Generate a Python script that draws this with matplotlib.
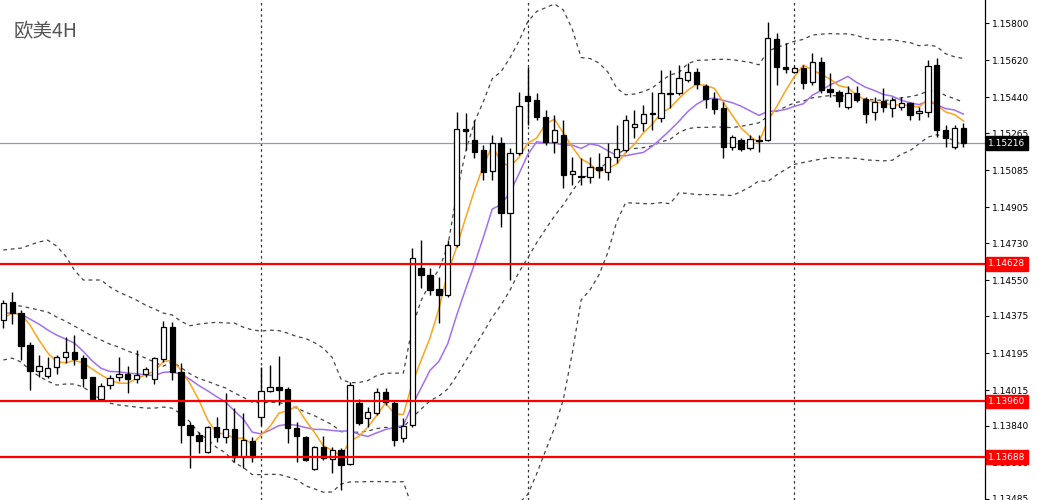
import numpy as np
import pandas as pd
import matplotlib
matplotlib.use('Agg')
import matplotlib.pyplot as plt
from matplotlib.transforms import blended_transform_factory

plt.rcParams['font.family'] = ['Noto Sans CJK SC', 'DejaVu Sans']

# 4H candles (open / high / low / close)
opens = [1.14355, 1.14443, 1.14389, 1.14234, 1.14107, 1.14083, 1.14127, 1.14175, 1.14200, 1.14170,
         1.14078, 1.13971, 1.14039, 1.14078, 1.14092, 1.14068, 1.14092, 1.14068, 1.14165, 1.14321,
         1.14102, 1.13844, 1.13796, 1.13713, 1.13835, 1.13786, 1.13825, 1.13689, 1.13767, 1.13883,
         1.14010, 1.14029, 1.14020, 1.13830, 1.13786, 1.13630, 1.13737, 1.13679, 1.13723, 1.13655,
         1.13951, 1.13878, 1.13903, 1.14005, 1.13951, 1.13781, 1.13844, 1.14608, 1.14574, 1.14506,
         1.14477, 1.14720, 1.15284, 1.15231, 1.15182, 1.15080, 1.15216, 1.14876, 1.15168, 1.15445,
         1.15425, 1.15343, 1.15221, 1.15255, 1.15065, 1.15056, 1.15051, 1.15100, 1.15075, 1.15148,
         1.15182, 1.15294, 1.15314, 1.15362, 1.15338, 1.15460, 1.15460, 1.15523, 1.15562, 1.15494,
         1.15430, 1.15387, 1.15197, 1.15231, 1.15192, 1.15226, 1.15231, 1.15722, 1.15586, 1.15562,
         1.15581, 1.15513, 1.15610, 1.15479, 1.15464, 1.15391, 1.15460, 1.15430, 1.15367, 1.15421,
         1.15387, 1.15391, 1.15411, 1.15362, 1.15367, 1.15596, 1.15280, 1.15197, 1.15289]
highs = [1.14452, 1.14491, 1.14404, 1.14248, 1.14185, 1.14175, 1.14185, 1.14272, 1.14282, 1.14185,
         1.14078, 1.14049, 1.14088, 1.14175, 1.14131, 1.14209, 1.14127, 1.14175, 1.14350, 1.14345,
         1.14146, 1.13859, 1.13810, 1.13840, 1.13883, 1.14000, 1.13927, 1.13903, 1.13786, 1.14127,
         1.14136, 1.14180, 1.14029, 1.13859, 1.13791, 1.13742, 1.13791, 1.13737, 1.13732, 1.14054,
         1.13971, 1.13932, 1.14024, 1.14024, 1.13966, 1.13878, 1.14705, 1.14744, 1.14608, 1.14564,
         1.14744, 1.15367, 1.15362, 1.15328, 1.15207, 1.15255, 1.15245, 1.15192, 1.15464, 1.15586,
         1.15460, 1.15377, 1.15353, 1.15328, 1.15148, 1.15143, 1.15148, 1.15168, 1.15216, 1.15304,
         1.15353, 1.15377, 1.15401, 1.15464, 1.15571, 1.15571, 1.15596, 1.15606, 1.15581, 1.15503,
         1.15464, 1.15416, 1.15255, 1.15241, 1.15255, 1.15255, 1.15805, 1.15751, 1.15703, 1.15591,
         1.15596, 1.15654, 1.15635, 1.15557, 1.15474, 1.15494, 1.15494, 1.15440, 1.15440, 1.15484,
         1.15440, 1.15440, 1.15416, 1.15391, 1.15620, 1.15630, 1.15304, 1.15304, 1.15314]
lows = [1.14316, 1.14336, 1.14161, 1.14015, 1.14078, 1.14073, 1.14092, 1.14146, 1.14136, 1.14029,
        1.13966, 1.13961, 1.14020, 1.14058, 1.14000, 1.14049, 1.14078, 1.14044, 1.14151, 1.14063,
        1.13757, 1.13635, 1.13708, 1.13708, 1.13762, 1.13757, 1.13664, 1.13635, 1.13664, 1.13844,
        1.14005, 1.13942, 1.13757, 1.13664, 1.13669, 1.13625, 1.13674, 1.13611, 1.13528, 1.13650,
        1.13844, 1.13835, 1.13893, 1.13942, 1.13742, 1.13762, 1.13835, 1.14511, 1.14477, 1.14341,
        1.14467, 1.14710, 1.15182, 1.15143, 1.15036, 1.15036, 1.14808, 1.14550, 1.15158, 1.15304,
        1.15328, 1.15207, 1.15168, 1.14997, 1.15012, 1.15012, 1.15022, 1.15046, 1.15036, 1.15119,
        1.15173, 1.15241, 1.15275, 1.15280, 1.15318, 1.15387, 1.15450, 1.15513, 1.15479, 1.15387,
        1.15357, 1.15143, 1.15182, 1.15177, 1.15182, 1.15173, 1.15226, 1.15498, 1.15557, 1.15557,
        1.15479, 1.15498, 1.15460, 1.15440, 1.15391, 1.15382, 1.15416, 1.15314, 1.15328, 1.15367,
        1.15343, 1.15377, 1.15328, 1.15328, 1.15343, 1.15245, 1.15197, 1.15187, 1.15197]
closes = [1.14438, 1.14389, 1.14229, 1.14107, 1.14131, 1.14122, 1.14175, 1.14200, 1.14165, 1.14073,
          1.13971, 1.14034, 1.14073, 1.14092, 1.14068, 1.14088, 1.14117, 1.14170, 1.14321, 1.14102,
          1.13844, 1.13796, 1.13767, 1.13835, 1.13786, 1.13825, 1.13689, 1.13771, 1.13689, 1.14010,
          1.14029, 1.14015, 1.13830, 1.13791, 1.13674, 1.13737, 1.13684, 1.13723, 1.13650, 1.14039,
          1.13854, 1.13908, 1.14005, 1.13956, 1.13771, 1.13840, 1.14657, 1.14574, 1.14501, 1.14477,
          1.14720, 1.15284, 1.15275, 1.15173, 1.15075, 1.15216, 1.14876, 1.15168, 1.15396, 1.15421,
          1.15343, 1.15221, 1.15280, 1.15061, 1.15080, 1.15051, 1.15100, 1.15085, 1.15148, 1.15187,
          1.15328, 1.15309, 1.15357, 1.15357, 1.15460, 1.15455, 1.15533, 1.15562, 1.15503, 1.15430,
          1.15382, 1.15197, 1.15245, 1.15187, 1.15236, 1.15231, 1.15727, 1.15586, 1.15576, 1.15581,
          1.15508, 1.15610, 1.15474, 1.15464, 1.15421, 1.15460, 1.15425, 1.15357, 1.15416, 1.15391,
          1.15425, 1.15411, 1.15353, 1.15372, 1.15591, 1.15280, 1.15241, 1.15289, 1.15216]

# indicator values shown for the first bars (their history lies left of the view)
ma5_head = [1.14365, 1.14389, 1.14384, 1.14331]
ma10_head = [1.14389, 1.14389, 1.14384, 1.14360, 1.14336, 1.14307, 1.14282, 1.14263, 1.14243]
bb_up_head = [1.14696, 1.14701, 1.14705, 1.14720, 1.14735, 1.14744, 1.14715, 1.14667, 1.14598, 1.14550,
              1.14550, 1.14550, 1.14516, 1.14491, 1.14472, 1.14452, 1.14428, 1.14409, 1.14389]
bb_mid_head = [1.14428, 1.14428, 1.14423, 1.14414, 1.14404, 1.14394, 1.14370, 1.14350, 1.14326, 1.14302,
               1.14277, 1.14258, 1.14238, 1.14224, 1.14204, 1.14190, 1.14170, 1.14151, 1.14131]
bb_lo_head = [1.14161, 1.14170, 1.14151, 1.14112, 1.14083, 1.14058, 1.14039, 1.14044, 1.14044, 1.14029,
              1.14000, 1.13966, 1.13951, 1.13942, 1.13937, 1.13932, 1.13927, 1.13927, 1.13932]

week_starts = [29, 59, 89]
levels = [1.14628, 1.13960, 1.13688]
last_price = 1.15216
ticks = [1.15800, 1.15620, 1.15440, 1.15265, 1.15085, 1.14905, 1.14730, 1.14550,
         1.14375, 1.14195, 1.14015, 1.13840, 1.13660, 1.13485]

n = len(closes)
x = np.arange(n)
c = pd.Series(closes)

def with_head(series, head):
    v = series.to_numpy().copy()
    v[:len(head)] = head
    return v

ma5 = with_head(c.rolling(5).mean(), ma5_head)
ma10 = with_head(c.rolling(10).mean(), ma10_head)
mid = c.rolling(20).mean()
sd = c.rolling(20).std(ddof=0)
bb_mid = with_head(mid, bb_mid_head)
bb_up = with_head(mid + 2 * sd, bb_up_head)
bb_lo = with_head(mid - 2 * sd, bb_lo_head)

fig = plt.figure(figsize=(10.38, 5.0), dpi=100)
ax = fig.add_axes([0, 0, 985 / 1038, 1])

# bollinger bands + moving averages
for band in (bb_up, bb_mid, bb_lo):
    ax.plot(x, band, color='#444444', lw=0.9, ls=(0, (3, 3)), zorder=1)
ax.plot(x, ma10, color='#a070f0', lw=1.1, zorder=3)
ax.plot(x, ma5, color='#ffa31a', lw=1.1, zorder=3)

# weekly separators
for w in week_starts:
    ax.axvline(w, color='#333333', lw=0.9, ls=(0, (2, 2.5)), zorder=0)

# candles
for i in range(n):
    o, h, l, cl = opens[i], highs[i], lows[i], closes[i]
    ax.vlines(i, l, h, color='black', lw=1.0, zorder=4)
    up = cl >= o
    ax.bar(i, max(abs(cl - o), 0.00002), bottom=min(o, cl), width=0.6,
           color='white' if up else 'black', edgecolor='black', lw=0.9, zorder=5)

trans = blended_transform_factory(ax.transAxes, ax.transData)
ax.axhline(last_price, color='#8c9cb0', lw=0.9, zorder=2)
for lv in levels:
    ax.axhline(lv, color='#ff0000', lw=1.6, zorder=6)
    ax.text(1.0035, lv, f'{lv:.5f}', transform=trans, ha='left', va='center',
            fontsize=6.5, color='white', family='DejaVu Sans', clip_on=False,
            bbox=dict(boxstyle='square,pad=0.25', fc='#ff0000', ec='#ff0000'))
ax.text(1.0035, last_price, f'{last_price:.5f}', transform=trans, ha='left', va='center',
        fontsize=6.5, color='white', family='DejaVu Sans', clip_on=False,
        bbox=dict(boxstyle='square,pad=0.25', fc='black', ec='black'))

ax.set_xlim(-0.37, -0.37 + 985 / 8.89)
ax.set_ylim(1.13480, 1.15912)
ax.yaxis.tick_right()
ax.set_yticks(ticks)
ax.set_yticklabels([f'{t:.5f}' for t in ticks], fontsize=6.5, family='DejaVu Sans')
ax.tick_params(axis='y', length=3, width=0.8, pad=2)
ax.set_xticks([])
for s in ('left', 'top', 'bottom'):
    ax.spines[s].set_visible(False)
ax.spines['right'].set_linewidth(0.9)

ax.text(14 / 985, 1 - 32 / 500, '欧美4H', transform=ax.transAxes, fontsize=14,
        color='#555555', va='center', ha='left')

fig.savefig('out.png', dpi=100)
